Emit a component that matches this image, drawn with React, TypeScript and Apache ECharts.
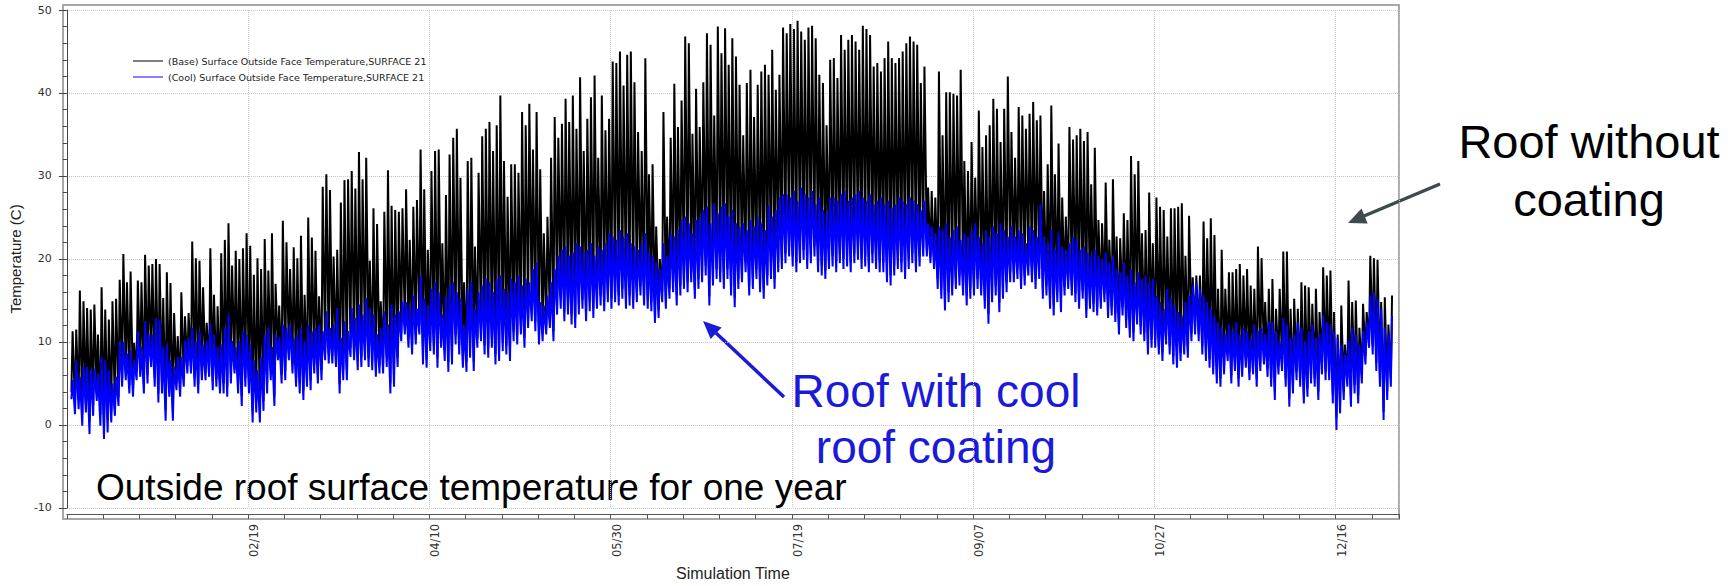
import React, { useEffect, useRef } from "react";
import * as echarts from "echarts";

// Daily peak / daily minimum values (°C), day 1 = Jan 1
const baseHigh = [
  11.3, 11.5, 16.2, 14.9, 14.1, 13.9, 14.5, 10.9, 16.6, 13.9,
  12.7, 14.9, 15.2, 17.5, 20.6, 17.2, 18.5, 9.9, 17.4, 17.2,
  20.5, 19.2, 19.4, 20.0, 19.4, 15.3, 18.4, 17.1, 13.5, 10.7,
  16.0, 13.1, 13.5, 22.1, 20.1, 19.8, 16.6, 12.3, 21.3, 15.7,
  14.3, 20.7, 22.3, 24.3, 19.2, 21.0, 20.0, 21.3, 23.1, 21.6,
  18.1, 20.1, 18.8, 22.4, 18.6, 23.1, 17.0, 14.4, 24.6, 22.0,
  18.8, 21.4, 20.1, 22.8, 15.7, 25.0, 22.6, 21.0, 15.5, 28.7,
  30.2, 28.3, 20.3, 21.1, 26.8, 29.5, 29.6, 30.6, 28.5, 32.9,
  29.6, 32.2, 19.8, 26.1, 24.2, 14.9, 25.7, 30.7, 26.4, 25.9,
  25.7, 26.1, 28.4, 22.3, 26.3, 27.1, 33.2, 28.4, 21.1, 30.6,
  33.0, 33.2, 21.9, 27.7, 32.6, 34.6, 35.7, 29.8, 17.2, 31.8,
  32.2, 21.5, 30.4, 34.8, 35.7, 36.5, 33.0, 36.1, 39.7, 31.8,
  27.5, 31.4, 31.4, 30.4, 37.7, 36.1, 38.7, 33.2, 37.7, 30.8,
  23.1, 25.1, 32.2, 37.1, 34.6, 36.3, 39.3, 36.5, 39.7, 35.7,
  41.9, 33.0, 36.9, 39.5, 42.1, 32.2, 39.7, 35.5, 36.9, 43.8,
  43.6, 45.0, 40.9, 44.6, 45.0, 41.3, 35.3, 33.0, 44.2, 30.2,
  31.4, 23.9, 20.0, 37.7, 25.1, 34.6, 41.1, 35.9, 39.1, 46.8,
  46.0, 35.1, 40.5, 35.9, 41.3, 47.2, 45.8, 37.3, 48.0, 44.8,
  47.8, 43.4, 46.6, 44.4, 41.0, 34.9, 41.2, 42.8, 37.1, 41.0,
  42.6, 43.4, 42.2, 45.2, 40.4, 42.2, 47.9, 47.2, 48.3, 47.7,
  48.7, 47.4, 46.4, 47.9, 48.1, 46.6, 42.2, 41.2, 36.1, 44.0,
  44.2, 41.8, 47.0, 45.2, 46.4, 47.0, 46.2, 45.2, 48.1, 47.7,
  47.0, 43.2, 43.6, 42.6, 44.2, 46.2, 44.2, 43.6, 44.2, 45.0,
  46.0, 46.8, 46.2, 45.8, 41.2, 43.2, 28.6, 28.2, 27.4, 42.6,
  34.9, 40.1, 40.1, 39.9, 39.7, 42.8, 31.8, 30.6, 34.1, 29.8,
  37.9, 33.5, 34.9, 36.1, 39.3, 38.1, 34.1, 38.1, 42.0, 35.3,
  32.2, 38.3, 37.3, 35.7, 37.5, 38.9, 36.7, 37.3, 28.2, 31.4,
  38.5, 30.2, 33.9, 27.4, 25.1, 35.9, 34.4, 34.9, 35.7, 34.2,
  35.3, 29.0, 33.4, 24.7, 24.3, 29.2, 22.3, 29.6, 22.7, 22.5,
  25.5, 24.7, 32.4, 30.2, 31.8, 23.1, 23.5, 28.0, 21.9, 27.4,
  26.3, 25.9, 22.7, 26.1, 26.1, 26.3, 26.7, 20.4, 25.2, 17.8,
  18.0, 18.0, 24.5, 22.5, 24.9, 22.9, 16.4, 21.1, 16.4, 18.4,
  18.4, 18.8, 19.4, 18.0, 18.8, 16.8, 16.4, 21.5, 20.1, 14.8,
  16.4, 17.6, 14.0, 16.4, 20.9, 20.9, 14.0, 15.2, 14.0, 17.2,
  16.8, 16.6, 14.6, 16.4, 13.6, 19.0, 18.0, 18.6, 13.6, 10.9,
  14.4, 9.7, 17.4, 14.8, 15.0, 11.7, 14.6, 13.6, 20.4, 20.1,
  19.9, 14.8, 15.4, 12.1, 15.6,
];

const baseLow = [
  4.0, 2.5, 3.0, 1.2, 2.6, 0.4, 2.3, 3.8, 1.2, 0.0,
  0.6, 1.6, 2.2, 3.4, 5.6, 6.3, 4.8, 4.2, 6.4, 6.7,
  4.9, 6.0, 7.9, 5.7, 3.8, 4.8, 1.8, 4.4, 1.7, 5.0,
  4.5, 5.6, 7.1, 7.2, 5.7, 4.9, 6.4, 6.3, 6.9, 5.3,
  5.5, 4.9, 5.0, 4.6, 6.1, 7.2, 4.9, 3.5, 5.7, 4.9,
  1.6, 2.7, 1.6, 2.9, 5.0, 6.5, 3.5, 8.6, 6.1, 6.5,
  8.7, 7.3, 5.7, 5.0, 4.2, 5.8, 5.4, 7.3, 6.0, 6.6,
  8.8, 8.5, 8.3, 8.1, 4.9, 6.6, 6.6, 9.3, 8.8, 7.7,
  8.2, 8.9, 8.0, 7.7, 6.8, 7.2, 7.4, 8.2, 5.0, 5.8,
  8.1, 11.0, 11.8, 10.4, 9.6, 10.8, 12.0, 8.5, 7.9, 10.0,
  9.6, 8.1, 10.2, 8.9, 7.6, 8.5, 10.8, 9.6, 7.8, 7.6,
  9.2, 7.6, 10.4, 11.2, 9.6, 9.3, 10.4, 8.5, 8.9, 10.0,
  9.6, 8.9, 11.2, 10.8, 12.0, 10.5, 12.8, 13.6, 12.4, 10.6,
  11.0, 12.0, 12.9, 11.3, 14.4, 15.2, 13.7, 14.4, 13.3, 12.9,
  14.5, 15.1, 13.7, 14.9, 14.1, 15.1, 15.6, 14.9, 16.0, 15.2,
  16.0, 15.6, 16.4, 15.2, 15.6, 15.1, 15.9, 16.7, 15.6, 15.1,
  14.8, 13.2, 13.8, 16.0, 15.1, 16.4, 17.2, 15.6, 16.8, 17.6,
  17.2, 18.4, 16.4, 17.6, 18.4, 19.2, 15.5, 18.0, 18.8, 18.4,
  17.6, 18.8, 16.8, 15.3, 17.6, 18.4, 19.6, 16.8, 17.6, 18.8,
  17.2, 16.4, 18.0, 18.8, 17.6, 19.6, 20.0, 20.7, 21.5, 20.3,
  19.6, 20.7, 21.1, 20.0, 20.7, 21.5, 19.6, 19.2, 18.6, 20.0,
  20.3, 19.6, 20.7, 20.0, 20.3, 19.6, 20.7, 21.1, 20.0, 20.3,
  19.6, 20.7, 20.0, 19.6, 19.6, 18.4, 18.0, 19.2, 20.0, 19.6,
  18.8, 20.0, 20.7, 19.6, 20.3, 21.3, 21.0, 20.2, 19.6, 17.6,
  16.4, 15.0, 16.0, 16.8, 17.6, 18.0, 16.8, 15.6, 16.4, 16.8,
  17.6, 16.8, 15.2, 13.4, 16.0, 16.8, 14.8, 16.4, 17.2, 18.4,
  18.4, 18.8, 17.6, 18.0, 19.2, 18.4, 17.6, 18.8, 16.4, 16.8,
  15.2, 14.4, 16.0, 14.8, 16.6, 17.4, 16.6, 15.8, 15.0, 16.2,
  13.9, 15.0, 14.6, 14.2, 15.0, 15.8, 13.9, 14.2, 13.4, 11.9,
  14.2, 12.7, 11.5, 11.1, 13.1, 11.9, 11.1, 9.5, 10.3, 10.3,
  9.5, 8.7, 10.7, 9.5, 8.3, 7.9, 8.7, 9.5, 9.1, 11.0,
  11.8, 11.0, 9.5, 8.7, 7.9, 7.1, 6.0, 5.6, 7.1, 8.7,
  6.0, 7.5, 5.6, 6.8, 7.9, 6.4, 7.1, 5.6, 7.5, 8.3,
  6.8, 5.6, 4.0, 7.1, 7.5, 5.6, 3.2, 4.8, 6.4, 5.6,
  3.6, 4.4, 6.0, 5.6, 4.0, 7.1, 6.4, 6.4, 3.6, 0.9,
  2.4, 4.0, 5.6, 3.2, 4.8, 3.6, 6.0, 8.3, 10.3, 9.5,
  7.5, 5.6, 1.6, 4.0, 5.6,
];

const coolHigh = [
  5.4, 7.8, 5.8, 7.0, 7.0, 6.6, 6.8, 6.2, 8.2, 7.8,
  6.6, 5.0, 5.8, 10.1, 10.0, 8.6, 9.0, 7.8, 11.3, 9.4,
  12.5, 10.9, 10.9, 12.9, 12.7, 9.4, 9.7, 7.8, 7.0, 8.2,
  8.2, 10.1, 10.5, 11.7, 10.1, 11.3, 9.7, 10.1, 12.1, 10.9,
  9.4, 9.7, 11.7, 13.3, 10.1, 9.4, 10.1, 11.3, 10.9, 9.7,
  7.8, 6.6, 8.2, 10.9, 11.7, 9.4, 10.9, 10.5, 12.1, 11.7,
  12.1, 10.5, 10.9, 11.7, 10.1, 12.1, 11.3, 11.7, 12.1, 11.3,
  13.7, 11.7, 12.1, 14.1, 10.5, 12.5, 11.3, 14.1, 12.9, 14.5,
  13.3, 15.3, 14.1, 13.3, 10.9, 11.7, 13.7, 12.1, 14.5, 13.3,
  13.7, 14.9, 14.8, 14.4, 15.6, 14.0, 18.0, 15.2, 14.4, 16.4,
  17.2, 16.0, 13.3, 15.6, 16.8, 17.2, 16.0, 15.2, 12.1, 16.4,
  17.2, 14.0, 16.0, 16.8, 17.6, 17.2, 16.0, 17.6, 18.0, 16.4,
  16.0, 17.6, 17.2, 18.0, 16.8, 17.6, 17.2, 18.8, 19.6, 14.8,
  14.4, 15.6, 17.2, 18.8, 20.4, 21.1, 21.5, 20.4, 20.8, 21.9,
  21.5, 20.8, 21.1, 21.9, 20.4, 21.5, 21.1, 21.9, 23.1, 22.7,
  22.3, 23.5, 22.7, 23.1, 21.9, 21.5, 21.1, 21.9, 23.1, 20.8,
  20.4, 19.6, 18.8, 21.9, 20.4, 23.1, 22.7, 23.5, 24.7, 25.1,
  24.3, 23.1, 24.7, 25.1, 25.9, 26.3, 24.3, 26.7, 25.5, 26.3,
  26.7, 25.1, 25.9, 24.3, 23.9, 24.3, 23.5, 24.7, 23.9, 25.1,
  24.3, 23.5, 26.4, 25.1, 25.9, 27.4, 27.8, 27.8, 27.4, 28.2,
  27.0, 28.6, 27.8, 27.4, 28.2, 26.6, 27.4, 25.9, 25.5, 27.4,
  27.4, 27.0, 27.8, 28.2, 27.0, 27.4, 27.8, 28.2, 27.4, 27.0,
  27.8, 26.6, 27.0, 27.4, 26.6, 27.0, 26.2, 26.6, 27.4, 27.0,
  26.6, 27.4, 27.0, 26.6, 25.9, 27.0, 24.3, 23.9, 23.1, 23.9,
  23.5, 24.3, 22.7, 23.5, 23.9, 22.3, 23.1, 22.7, 23.5, 24.3,
  22.7, 21.9, 23.5, 22.7, 23.9, 23.1, 24.3, 23.5, 22.7, 23.9,
  22.7, 23.5, 23.1, 21.9, 23.9, 23.5, 22.7, 26.6, 22.7, 21.9,
  23.5, 21.1, 23.1, 21.5, 21.1, 21.9, 22.7, 22.3, 21.1, 21.5,
  20.8, 20.4, 21.1, 20.4, 20.0, 20.8, 19.6, 20.4, 18.8, 18.4,
  19.6, 18.0, 18.8, 17.2, 18.4, 17.6, 18.0, 17.2, 17.6, 15.6,
  14.8, 14.0, 16.4, 15.2, 14.4, 13.6, 13.2, 14.8, 15.6, 16.8,
  17.2, 16.4, 15.6, 14.8, 14.0, 13.2, 12.4, 11.7, 10.9, 12.1,
  11.3, 12.4, 10.9, 11.7, 11.3, 10.5, 12.1, 11.3, 11.7, 10.9,
  12.4, 12.4, 11.3, 10.1, 12.9, 12.1, 10.5, 10.9, 12.4, 11.7,
  10.1, 11.3, 12.1, 10.5, 10.9, 13.2, 12.4, 12.1, 11.3, 10.5,
  9.7, 8.5, 10.1, 11.7, 10.9, 9.7, 11.3, 12.4, 15.6, 16.0,
  15.2, 14.0, 11.7, 10.9, 13.2,
];

const coolLow = [
  3.1, 1.3, 1.9, -0.1, 1.5, -1.1, 1.1, 2.9, -0.1, -1.7,
  -0.9, 0.3, 1.1, 2.3, 4.6, 5.4, 3.8, 3.4, 5.4, 5.8,
  3.8, 5.0, 7.0, 4.6, 2.7, 3.8, 0.5, 3.4, 0.5, 4.2,
  3.4, 4.6, 6.2, 6.2, 4.6, 3.8, 5.4, 5.4, 5.8, 4.2,
  4.6, 3.8, 3.8, 3.4, 5.0, 6.2, 3.8, 2.3, 4.6, 3.8,
  0.3, 1.5, 0.3, 1.7, 3.8, 5.4, 2.3, 7.8, 5.0, 5.4,
  7.8, 6.2, 4.6, 3.8, 3.0, 4.6, 4.2, 6.2, 5.0, 5.4,
  7.8, 7.4, 7.4, 7.0, 3.8, 5.4, 5.4, 8.2, 7.8, 6.6,
  7.0, 7.8, 7.0, 6.6, 5.8, 6.2, 6.2, 7.0, 3.8, 4.6,
  7.0, 10.1, 10.9, 9.3, 8.5, 9.7, 10.9, 7.3, 6.9, 8.9,
  8.5, 6.9, 9.3, 7.7, 6.4, 7.3, 9.7, 8.5, 6.9, 6.4,
  8.1, 6.5, 9.3, 10.1, 8.5, 8.1, 9.3, 7.3, 7.7, 8.9,
  8.5, 7.7, 10.1, 9.7, 10.9, 9.3, 11.7, 12.5, 11.3, 9.7,
  10.1, 10.9, 11.7, 10.1, 13.3, 14.0, 12.5, 13.3, 12.1, 11.7,
  13.3, 14.0, 12.5, 13.7, 12.9, 14.0, 14.4, 13.7, 14.8, 14.0,
  14.8, 14.4, 15.2, 14.0, 14.4, 14.0, 14.8, 15.6, 14.4, 14.0,
  13.7, 12.3, 12.9, 14.8, 14.0, 15.2, 16.0, 14.4, 15.6, 16.4,
  16.0, 17.2, 15.2, 16.4, 17.2, 18.0, 14.4, 16.8, 17.6, 17.2,
  16.4, 17.6, 15.6, 14.2, 16.4, 17.2, 18.4, 15.6, 16.4, 17.6,
  16.0, 15.2, 16.8, 17.6, 16.4, 18.4, 18.8, 19.5, 20.3, 19.1,
  18.4, 19.5, 19.9, 18.8, 19.5, 20.3, 18.4, 18.0, 17.6, 18.8,
  19.1, 18.4, 19.5, 18.8, 19.1, 18.4, 19.5, 19.9, 18.8, 19.1,
  18.4, 19.5, 18.8, 18.4, 18.4, 17.2, 16.8, 18.0, 18.8, 18.4,
  17.6, 18.8, 19.5, 18.4, 19.1, 20.3, 20.3, 19.5, 18.8, 16.4,
  15.2, 13.8, 14.8, 15.6, 16.4, 16.8, 15.6, 14.4, 15.2, 15.6,
  16.4, 15.6, 14.0, 12.2, 14.8, 15.6, 13.6, 15.2, 16.0, 17.2,
  17.2, 17.6, 16.4, 16.8, 18.0, 17.2, 16.4, 17.6, 15.2, 15.6,
  14.0, 13.2, 14.8, 13.6, 15.6, 16.4, 15.6, 14.8, 14.0, 15.2,
  12.9, 14.0, 13.6, 13.2, 14.0, 14.8, 12.9, 13.2, 12.4, 10.9,
  13.2, 11.7, 10.5, 10.1, 12.1, 10.9, 10.1, 8.5, 9.3, 9.3,
  8.5, 7.7, 9.7, 8.5, 7.3, 6.9, 7.7, 8.5, 8.1, 10.1,
  10.9, 10.1, 8.5, 7.7, 6.9, 6.1, 5.0, 4.6, 6.1, 7.7,
  5.0, 6.5, 4.6, 5.8, 6.9, 5.4, 6.1, 4.6, 6.5, 7.3,
  5.8, 4.6, 3.0, 6.1, 6.5, 4.6, 2.2, 3.8, 5.4, 4.6,
  2.6, 3.4, 5.0, 4.6, 3.0, 6.1, 5.4, 5.4, 2.6, -0.6,
  1.4, 3.0, 4.6, 2.2, 3.8, 2.6, 5.0, 7.3, 9.3, 8.5,
  6.5, 4.6, 0.6, 3.0, 4.6,
];

const tickDays = [50, 100, 150, 200, 250, 300, 350];
const tickLabels = ["02/19", "04/10", "05/30", "07/19", "09/07", "10/27", "12/16"];
const seriesNames = [
  "(Base) Surface Outside Face Temperature,SURFACE 21",
  "(Cool) Surface Outside Face Temperature,SURFACE 21",
];

// time of day (fraction) of the daily minimum and maximum
const LOW_TIME = 0.25;
const HIGH_TIME = 0.58;

function dailyTrace(lows: number[], highs: number[]) {
  const out: number[][] = [];
  for (let i = 0; i < highs.length; i++) {
    const day = i + 1;
    out.push([day + LOW_TIME, lows[i]]);
    out.push([day + HIGH_TIME, highs[i]]);
  }
  return out;
}

const SANS = '"Liberation Sans", Arial, sans-serif';
const TAHOMA = '"DejaVu Sans", Verdana, sans-serif';
const BLUE_TEXT = "#1a1ad8";

export default function App() {
  const ref = useRef<HTMLDivElement>(null);
  useEffect(() => {
    document.body.style.margin = "0";
    const chart = echarts.init(ref.current!, null, { renderer: "svg" });
    const option: any = {
      animation: false,
      backgroundColor: "#ffffff",
      grid: { left: 64, right: 336, top: 10, bottom: 69, show: false },
      legend: {
        orient: "vertical",
        left: 128,
        top: 51,
        itemWidth: 30,
        itemHeight: 1.5,
        itemGap: 6,
        icon: "rect",
        textStyle: { fontFamily: TAHOMA, fontSize: 9.5, color: "#222" },
        data: [
          { name: seriesNames[0], itemStyle: { color: "#555555" } },
          { name: seriesNames[1], itemStyle: { color: "#5a5aff" } },
        ],
      },
      xAxis: [
        {
          type: "value",
          min: 0,
          max: 367.5,
          interval: 10,
          position: "bottom",
          offset: 6,
          axisLine: { show: true, onZero: false, lineStyle: { color: "#555", width: 1 } },
          axisTick: { show: true, length: 5, lineStyle: { color: "#555" } },
          axisLabel: {
            rotate: 90,
            margin: 10,
            verticalAlign: "top",
            fontFamily: TAHOMA,
            fontSize: 11.5,
            color: "#333",
            formatter: (v: number) => {
              const k = tickDays.indexOf(Math.round(v * 10) / 10);
              return k >= 0 ? tickLabels[k] : "";
            },
          },
          splitLine: { show: false },
          name: "Simulation Time",
          nameLocation: "middle",
          nameGap: 45,
          nameTextStyle: { fontFamily: SANS, fontSize: 16, color: "#222" },
        },
        {
          type: "value",
          min: 0,
          max: 367.5,
          interval: 50,
          position: "bottom",
          axisLine: { show: false },
          axisTick: { show: false },
          axisLabel: { show: false },
          splitLine: { show: true, lineStyle: { type: "dotted", color: "#c4c4c4", width: 1 } },
        },
      ],
      yAxis: {
        type: "value",
        min: -10,
        max: 50,
        interval: 10,
        offset: 2,
        axisLine: { show: true, lineStyle: { color: "#444" } },
        axisTick: { show: true, length: 8, lineStyle: { color: "#444" } },
        minorTick: { show: true, splitNumber: 5, length: 4, lineStyle: { color: "#444" } },
        axisLabel: { margin: 13, fontFamily: TAHOMA, fontSize: 11, color: "#333" },
        splitLine: { show: true, lineStyle: { type: "dotted", color: "#c4c4c4", width: 1 } },
        name: "Temperature (C)",
        nameLocation: "middle",
        nameRotate: 90,
        nameGap: 37,
        nameTextStyle: { fontFamily: SANS, fontSize: 15, color: "#222" },
      },
      series: [
        {
          name: seriesNames[0],
          type: "line",
          xAxisIndex: 0,
          showSymbol: false,
          symbol: "none",
          lineStyle: { color: "#000000", width: 2 },
          itemStyle: { color: "#000000" },
          data: dailyTrace(baseLow, baseHigh),
          z: 2,
        },
        {
          name: seriesNames[1],
          type: "line",
          xAxisIndex: 0,
          showSymbol: false,
          symbol: "none",
          lineStyle: { color: "#0000ff", width: 2 },
          itemStyle: { color: "#0000ff" },
          data: dailyTrace(coolLow, coolHigh),
          z: 3,
        },
      ],
      graphic: [
        {
          type: "rect",
          silent: true,
          shape: { x: 63, y: 5, width: 1336, height: 514 },
          style: { fill: "none", stroke: "#a8a8a8", lineWidth: 2 },
        },
        {
          type: "text",
          x: 96,
          y: 487,
          style: {
            text: "Outside roof surface temperature for one year",
            fontFamily: SANS,
            fontSize: 37,
            fill: "#000",
            align: "left",
            verticalAlign: "middle",
          },
        },
        {
          type: "text",
          x: 936,
          y: 391,
          style: { text: "Roof with cool", fontFamily: SANS, fontSize: 46, fill: BLUE_TEXT, align: "center", verticalAlign: "middle" },
        },
        {
          type: "text",
          x: 936,
          y: 447,
          style: { text: "roof coating", fontFamily: SANS, fontSize: 46, fill: BLUE_TEXT, align: "center", verticalAlign: "middle" },
        },
        {
          type: "text",
          x: 1589,
          y: 141,
          style: { text: "Roof without", fontFamily: SANS, fontSize: 47, fill: "#000", align: "center", verticalAlign: "middle" },
        },
        {
          type: "text",
          x: 1589,
          y: 199,
          style: { text: "coating", fontFamily: SANS, fontSize: 47, fill: "#000", align: "center", verticalAlign: "middle" },
        },
        {
          type: "line",
          shape: { x1: 784, y1: 397, x2: 716, y2: 333 },
          style: { stroke: BLUE_TEXT, lineWidth: 3.5 },
        },
        {
          type: "polygon",
          shape: { points: [[703, 321], [721.6, 327.5], [710.6, 339.1]] },
          style: { fill: BLUE_TEXT },
        },
        {
          type: "line",
          shape: { x1: 1440, y1: 184, x2: 1364, y2: 216 },
          style: { stroke: "#3d4b4d", lineWidth: 3.5 },
        },
        {
          type: "polygon",
          shape: { points: [[1348, 223], [1367.7, 223.4], [1361.5, 208.6]] },
          style: { fill: "#3d4b4d" },
        },
      ],
    };
    chart.setOption(option);
    return () => chart.dispose();
  }, []);
  return <div ref={ref} style={{ width: 1735, height: 586 }} />;
}
